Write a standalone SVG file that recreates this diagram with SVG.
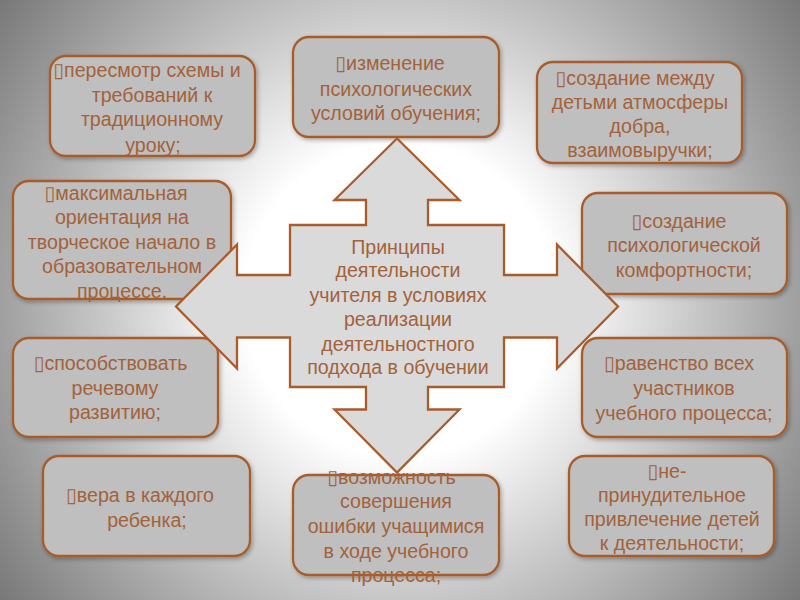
<svg xmlns="http://www.w3.org/2000/svg" width="800" height="600" viewBox="0 0 800 600">
<defs>
<radialGradient id="bg" gradientUnits="userSpaceOnUse" cx="400" cy="300" r="520">
<stop offset="0" stop-color="#ffffff"/>
<stop offset="0.3" stop-color="#ffffff"/>
<stop offset="1" stop-color="#707070"/>
</radialGradient>
<filter id="sh" x="-10%" y="-10%" width="130%" height="130%">
<feDropShadow dx="1.5" dy="2" stdDeviation="2" flood-color="#000" flood-opacity="0.3"/>
</filter>
</defs>
<style>
.box{fill:#bfbfbf;stroke:#a85c2c;stroke-width:2.3;filter:url(#sh)}
.arrow{fill:#dadada;stroke:#a85c2c;stroke-width:2.3;stroke-linejoin:miter}
text{font-family:"Liberation Sans","DejaVu Sans",Arial,sans-serif;font-size:19.6px;fill:#a3623b;text-anchor:middle}
</style>
<rect width="800" height="600" fill="url(#bg)"/>

<g id="box1"><rect class="box" x="50" y="56" width="205" height="100" rx="16"/>
<text><tspan x="147" y="77">▯пересмотр схемы и</tspan><tspan x="152" y="101.5">требований к</tspan><tspan x="152" y="126">традиционному</tspan><tspan x="153" y="151.5">уроку;</tspan></text></g>

<g id="box2"><rect class="box" x="293" y="37" width="206" height="100" rx="16"/>
<text><tspan x="390" y="69.5">▯изменение</tspan><tspan x="396" y="95.5">психологических</tspan><tspan x="396" y="120">условий обучения;</tspan></text></g>

<g id="box3"><rect class="box" x="537" y="62" width="205" height="101" rx="16"/>
<text><tspan x="635" y="85">▯создание между</tspan><tspan x="640" y="109">детьми атмосферы</tspan><tspan x="640" y="133">добра,</tspan><tspan x="640" y="156.5">взаимовыручки;</tspan></text></g>

<g id="box4"><rect class="box" x="13" y="181" width="218" height="118" rx="16"/>
<text><tspan x="116" y="199.5">▯максимальная</tspan><tspan x="122" y="224">ориентация на</tspan><tspan x="122" y="248.5">творческое начало в</tspan><tspan x="122" y="272.5">образовательном</tspan><tspan x="122" y="297.5">процессе.</tspan></text></g>

<g id="box5"><rect class="box" x="582" y="193" width="205" height="101" rx="16"/>
<text><tspan x="679" y="227.5">▯создание</tspan><tspan x="684" y="251.5">психологической</tspan><tspan x="684" y="276.5">комфортности;</tspan></text></g>

<g id="box6"><rect class="box" x="13" y="338" width="205" height="99" rx="16"/>
<text><tspan x="110.5" y="370">▯способствовать</tspan><tspan x="115" y="395">речевому</tspan><tspan x="115" y="419">развитию;</tspan></text></g>

<g id="box7"><rect class="box" x="582" y="338" width="205" height="99" rx="16"/>
<text><tspan x="679" y="370">▯равенство всех</tspan><tspan x="684" y="395">участников</tspan><tspan x="684" y="419.5">учебного процесса;</tspan></text></g>

<g id="box8"><rect class="box" x="43" y="456" width="207" height="100" rx="16"/>
<text><tspan x="140" y="502">▯вера в каждого</tspan><tspan x="147" y="527">ребенка;</tspan></text></g>

<g id="box9"><rect class="box" x="293" y="475" width="206" height="100" rx="16"/>
<text><tspan x="391.5" y="484">▯возможность</tspan><tspan x="396" y="508">совершения</tspan><tspan x="396" y="532.5">ошибки учащимися</tspan><tspan x="396" y="557.5">в ходе учебного</tspan><tspan x="396" y="581.5">процесса;</tspan></text></g>

<g id="box10"><rect class="box" x="569" y="456" width="205" height="100" rx="16"/>
<text><tspan x="667" y="478">▯не-</tspan><tspan x="672" y="502">принудительное</tspan><tspan x="672" y="526">привлечение детей</tspan><tspan x="672" y="550">к деятельности;</tspan></text></g>

<g id="center"><polygon class="arrow" points="397,138.5 459.5,200 428,200 428,225 504,225 504,275 557,275 557,244.5 618,306.5 557,368.5 557,337.5 504,337.5 504,387 428,387 428,409.5 459.5,409.5 397,472.5 334.5,409.5 366,409.5 366,387 290,387 290,337.5 237,337.5 237,368.5 176,306.5 237,244.5 237,275 290,275 290,225 366,225 366,200 334.5,200"/>
<text><tspan x="398" y="254">Принципы</tspan><tspan x="398" y="277">деятельности</tspan><tspan x="398" y="302">учителя в условиях</tspan><tspan x="398" y="326">реализации</tspan><tspan x="398" y="351">деятельностного</tspan><tspan x="398" y="374">подхода в обучении</tspan></text></g>

<g id="connectors"/>
</svg>
